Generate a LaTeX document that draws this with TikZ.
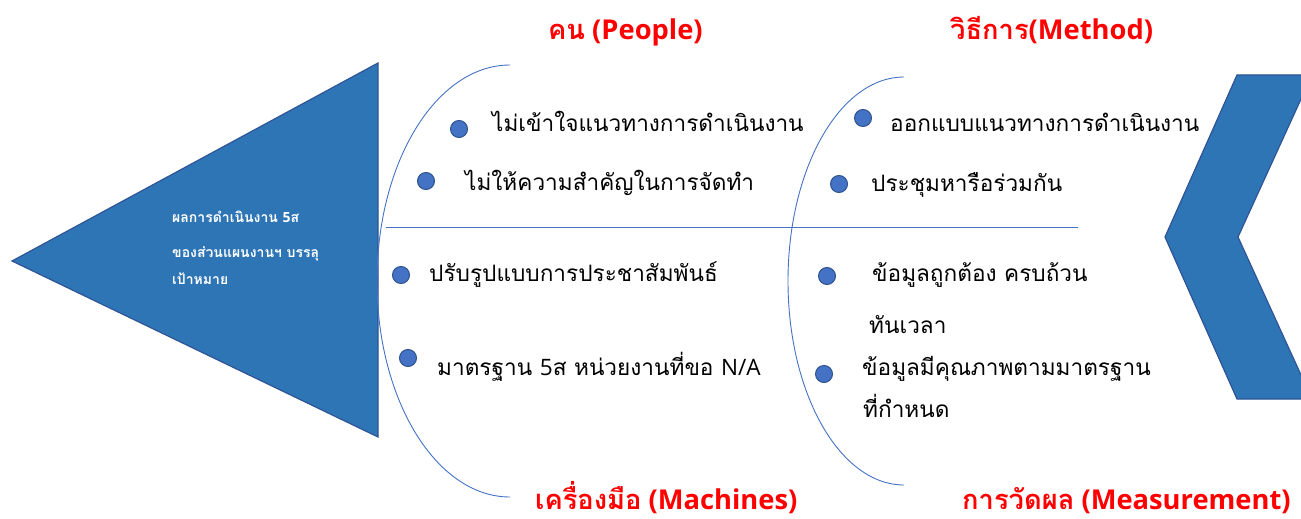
\documentclass[tikz,border=0pt]{standalone}
\usepackage{fontspec}
\setmainfont{Open Sans}
\newfontfamily\thai[Script=Thai]{Loma}
\definecolor{fillblue}{HTML}{2E75B6}
\definecolor{edgeblue}{HTML}{2F5597}
\definecolor{lineblue}{HTML}{4472C4}
\definecolor{dotedge}{HTML}{2F528F}
\definecolor{headred}{HTML}{FF0000}
\tikzset{
  bigshape/.style={fill=fillblue,draw=edgeblue,line width=1.2pt,line join=miter},
  arcline/.style={draw=lineblue,line width=0.9pt},
  dot/.style={circle,fill=lineblue,draw=dotedge,line width=1pt,minimum size=17pt,inner sep=0pt},
  item/.style={anchor=base west,inner sep=0pt,font=\thai\fontsize{22.6}{26}\selectfont,text=black},
  head/.style={anchor=base west,inner sep=0pt,text=headred,font=\bfseries\fontsize{27.3}{30}\selectfont},
  goal/.style={anchor=base west,inner sep=0pt,text=white,font=\thai\bfseries\fontsize{14}{16}\selectfont}
}
\begin{document}
\begin{tikzpicture}[x=1pt,y=-1pt]
\useasboundingbox (0,0) rectangle (1301,519);
\clip (0,0) rectangle (1301,519);
% head triangle
\draw[bigshape] (12,261) -- (378,63) -- (378,437) -- cycle;
% chevron on the right
\draw[bigshape] (1237,75) -- (1312,75) -- (1238,237) -- (1312,399) -- (1237,399) -- (1165,237) -- cycle;
% spine
\coordinate (sL) at (386,227);
\coordinate (sR) at (1078,227);
\draw[arcline] (sL) -- (sR);
% arcs
\coordinate (a1t) at (510,65);
\coordinate (a2t) at (904,77);
\draw[arcline] (a1t) arc[start angle=-90,end angle=-270,x radius=133,y radius=216];
\draw[arcline] (a2t) arc[start angle=-90,end angle=-270,x radius=116,y radius=204];
% goal text
\node[goal] (g1) at (172,222) {ผลการดำเนินงาน {\fontspec{Open Sans}5}ส};
\node[goal] (g2) at (172,257) {ของส่วนแผนงานฯ บรรลุ};
\node[goal] (g3) at (172,284) {เป้าหมาย};
% headings
\node[head] (h1) at (548,40) {{\thai คน} (People)};
\node[head] (h2) at (950,40) {{\thai วิธีการ}(Method)};
\node[head] (h3) at (535,509) {{\thai เครื่องมือ} (Machines)};
\node[head] (h4) at (962,509) {{\thai การวัดผล} (Measurement)};
% bullets
\node[dot] (d1) at (459,129) {};
\node[dot] (d2) at (426,181) {};
\node[dot] (d3) at (401,275) {};
\node[dot] (d4) at (408,358) {};
\node[dot] (d5) at (863,118) {};
\node[dot] (d6) at (839,184) {};
\node[dot] (d7) at (827,276) {};
\node[dot] (d8) at (824,374) {};
% items
\node[item] (t1) at (492,131) {ไม่เข้าใจแนวทางการดำเนินงาน};
\node[item] (t2) at (465,190) {ไม่ให้ความสำคัญในการจัดทำ};
\node[item] (t3) at (429,281) {ปรับรูปแบบการประชาสัมพันธ์};
\node[item] (t4) at (437,375) {มาตรฐาน {\fontspec{Open Sans}5}ส หน่วยงานที่ขอ {\fontspec{Open Sans}N/A}};
\node[item] (t5) at (890,131) {ออกแบบแนวทางการดำเนินงาน};
\node[item] (t6) at (871,191) {ประชุมหารือร่วมกัน};
\node[item] (t7) at (872,281) {ข้อมูลถูกต้อง ครบถ้วน};
\node[item] (t8) at (869,333) {ทันเวลา};
\node[item] (t9) at (862,375) {ข้อมูลมีคุณภาพตามมาตรฐาน};
\node[item] (t10) at (863,417) {ที่กำหนด};
\end{tikzpicture}
\end{document}
